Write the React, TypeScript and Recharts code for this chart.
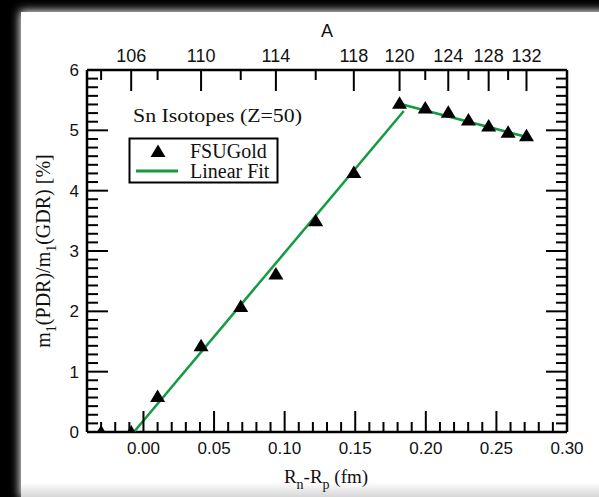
import React from "react";
import { ComposedChart, Scatter, XAxis, YAxis } from "recharts";

// Sn isotopes, FSUGold
const massNumbers = [104, 106, 108, 110, 112, 114, 116, 118, 120, 122, 124, 126, 128, 130, 132];
const rnRp = [-0.030, -0.0087, 0.010, 0.0408, 0.0689, 0.0938, 0.122, 0.149, 0.1814, 0.1996, 0.2159, 0.2302, 0.2445, 0.2583, 0.2713];
const pdrRatio = [0.0, 0.0, 0.59, 1.43, 2.08, 2.62, 3.5, 4.3, 5.45, 5.37, 5.3, 5.17, 5.07, 4.97, 4.91];

// linear fits (two segments)
const fitLowX = [-0.0068, 0.1844];
const fitLowY = [0, 5.32];
const fitHighX = [0.1814, 0.2713];
const fitHighY = [5.44, 4.89];

const labeledA = [106, 110, 114, 118, 120, 124, 128, 132];
const xMajorTicks = [0, 0.05, 0.1, 0.15, 0.2, 0.25, 0.3];
const yMajorTicks = [0, 1, 2, 3, 4, 5, 6];

const GREEN = "#139a43";
const SANS = "'Liberation Sans', Arial, sans-serif";
const SERIF = "'Liberation Serif', 'Times New Roman', serif";

const points = rnRp.map((x, i) => ({ x, y: pdrRatio[i] }));
const fitLow = fitLowX.map((x, i) => ({ x, y: fitLowY[i] }));
const fitHigh = fitHighX.map((x, i) => ({ x, y: fitHighY[i] }));

// minor ticks: every 0.01 in x, 7 divisions per unit in y
const xTicks: number[] = [];
for (let i = -3; i <= 30; i++) xTicks.push(i / 100);
const yTicks: number[] = [];
for (let i = 0; i <= 42; i++) yTicks.push(i / 7);

const isMajor = (v: number, majors: number[]) => majors.some((m) => Math.abs(m - v) < 1e-6);

const BottomTick = (props: any) => {
  const { x, y, payload } = props;
  const major = isMajor(payload.value, xMajorTicks);
  return (
    <g>
      <line x1={x} y1={y} x2={x} y2={y - (major ? 21 : 10)} stroke="#000" strokeWidth={2} />
      {major && (
        <text x={x} y={y + 22} textAnchor="middle" fontFamily={SANS} fontSize={17} fill="#111">
          {payload.value.toFixed(2)}
        </text>
      )}
    </g>
  );
};

const TopTick = (props: any) => {
  const { x, y, payload, index } = props;
  const idx = typeof index === "number" ? index : rnRp.indexOf(payload.value);
  const a = massNumbers[idx];
  const major = labeledA.includes(a);
  return (
    <g>
      <line x1={x} y1={y} x2={x} y2={y + (major ? 21 : 10)} stroke="#000" strokeWidth={2} />
      {major && (
        <text x={x} y={y - 8} textAnchor="middle" fontFamily={SANS} fontSize={18} fill="#111">
          {a}
        </text>
      )}
    </g>
  );
};

const LeftTick = (props: any) => {
  const { x, y, payload } = props;
  const major = isMajor(payload.value, yMajorTicks);
  return (
    <g>
      <line x1={x} y1={y} x2={x + (major ? 21 : 11)} y2={y} stroke="#000" strokeWidth={2} />
      {major && (
        <text x={x - 8} y={y + 6} textAnchor="end" fontFamily={SANS} fontSize={17} fill="#111">
          {Math.round(payload.value)}
        </text>
      )}
    </g>
  );
};

const RightTick = (props: any) => {
  const { x, y, payload } = props;
  const major = isMajor(payload.value, yMajorTicks);
  return <line x1={x} y1={y} x2={x - (major ? 21 : 11)} y2={y} stroke="#000" strokeWidth={2} />;
};

const Triangle = (props: any) => {
  const { cx, cy } = props;
  if (cx == null || cy == null) return <g />;
  return <path d={`M${cx},${cy - 7}L${cx + 7.5},${cy + 5.5}L${cx - 7.5},${cy + 5.5}Z`} fill="#000" />;
};

const NoDot = () => <g />;

export default function App() {
  return (
    <div style={{ position: "absolute", left: 0, top: 0, width: 599, height: 497, background: "#000", overflow: "hidden" }}>
      <div
        style={{
          position: "absolute",
          left: 21,
          top: 12,
          width: 600,
          height: 485,
          background: "linear-gradient(to bottom, #fff 0%, #fff 97%, #d6d6d6 100%)",
          boxShadow: "0 0 9px 1px #fff",
        }}
      />
      <div style={{ position: "absolute", left: 0, top: 0 }}>
        <ComposedChart width={599} height={497} margin={{ top: 0, right: 0, bottom: 0, left: 0 }}>
          <XAxis
            xAxisId="bottom"
            dataKey="x"
            type="number"
            orientation="bottom"
            domain={[-0.04, 0.3]}
            allowDataOverflow
            ticks={xTicks}
            interval={0}
            height={65}
            tickSize={0}
            tickMargin={0}
            tick={<BottomTick />}
            axisLine={{ stroke: "#000", strokeWidth: 2.5 }}
          />
          <XAxis
            xAxisId="top"
            dataKey="x"
            type="number"
            orientation="top"
            domain={[-0.04, 0.3]}
            allowDataOverflow
            ticks={rnRp}
            interval={0}
            height={70}
            tickSize={0}
            tickMargin={0}
            tick={<TopTick />}
            axisLine={{ stroke: "#000", strokeWidth: 2.5 }}
          />
          <YAxis
            yAxisId="left"
            dataKey="y"
            type="number"
            orientation="left"
            domain={[0, 6]}
            allowDataOverflow
            ticks={yTicks}
            interval={0}
            width={87}
            tickSize={0}
            tickMargin={0}
            tick={<LeftTick />}
            axisLine={{ stroke: "#000", strokeWidth: 2.5 }}
          />
          <YAxis
            yAxisId="right"
            dataKey="y"
            type="number"
            orientation="right"
            domain={[0, 6]}
            allowDataOverflow
            ticks={yTicks}
            interval={0}
            width={32}
            tickSize={0}
            tickMargin={0}
            tick={<RightTick />}
            axisLine={{ stroke: "#000", strokeWidth: 2.5 }}
          />
          <Scatter
            name="Linear Fit low"
            data={fitLow}
            dataKey="y"
            xAxisId="bottom"
            yAxisId="left"
            line={{ stroke: GREEN, strokeWidth: 2.5 }}
            shape={NoDot}
            isAnimationActive={false}
          />
          <Scatter
            name="Linear Fit high"
            data={fitHigh}
            dataKey="y"
            xAxisId="bottom"
            yAxisId="left"
            line={{ stroke: GREEN, strokeWidth: 2.5 }}
            shape={NoDot}
            isAnimationActive={false}
          />
          <Scatter
            name="FSUGold"
            data={points}
            dataKey="y"
            xAxisId="bottom"
            yAxisId="left"
            shape={Triangle}
            isAnimationActive={false}
          />
          <Scatter data={points} dataKey="y" xAxisId="top" yAxisId="right" shape={NoDot} isAnimationActive={false} />
        </ComposedChart>
      </div>
      <svg width={599} height={497} style={{ position: "absolute", left: 0, top: 0, pointerEvents: "none" }}>
        <text x={327} y={37} textAnchor="middle" fontFamily={SANS} fontSize={18} fill="#111">
          A
        </text>
        <text x={133} y={122} fontFamily={SERIF} fontSize={18} textLength={169} lengthAdjust="spacingAndGlyphs" fill="#111">
          Sn Isotopes (Z=50)
        </text>
        <rect x={129.5} y={138.5} width={148} height={44} fill="#fff" stroke="#000" strokeWidth={2} />
        <path d="M158,144.5L165.5,157L150.5,157Z" fill="#000" />
        <text x={190} y={158} fontFamily={SERIF} fontSize={20} fill="#111">
          FSUGold
        </text>
        <line x1={136} y1={171} x2={178} y2={171} stroke={GREEN} strokeWidth={3} />
        <text x={190} y={178} fontFamily={SERIF} fontSize={20} fill="#111">
          Linear Fit
        </text>
        <text x={326} y={483} textAnchor="middle" fontFamily={SERIF} fontSize={19} fill="#111">
          R<tspan dy={6} fontSize={14}>n</tspan>
          <tspan dy={-6}>-R</tspan>
          <tspan dy={6} fontSize={14}>p</tspan>
          <tspan dy={-6}> (fm)</tspan>
        </text>
        <text transform="translate(50,251) rotate(-90)" textAnchor="middle" fontFamily={SERIF} fontSize={20} fill="#111">
          m<tspan dy={6} fontSize={14}>1</tspan>
          <tspan dy={-6}>(PDR)/m</tspan>
          <tspan dy={6} fontSize={14}>1</tspan>
          <tspan dy={-6}>(GDR) [%]</tspan>
        </text>
      </svg>
    </div>
  );
}
